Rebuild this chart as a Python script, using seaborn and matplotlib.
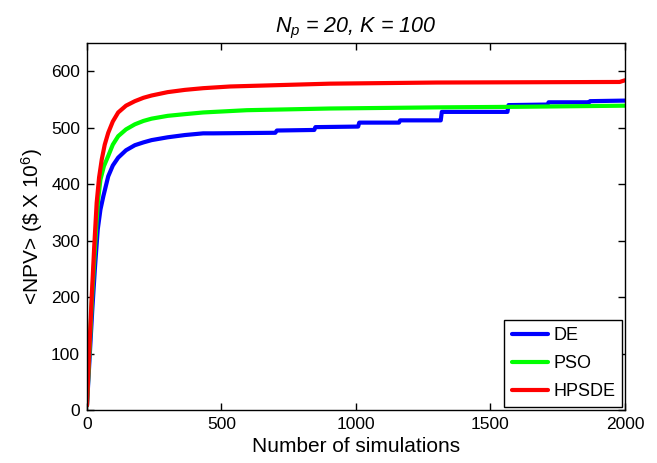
import matplotlib
matplotlib.use("Agg")
import matplotlib.pyplot as plt
import seaborn as sns
import pandas as pd

de_x = [0, 10, 20, 30, 40, 50, 61, 79, 96, 116, 145, 178, 210, 240, 300, 364, 432, 470, 700, 706, 845, 849, 1008, 1012, 1160, 1164, 1315, 1319, 1563, 1567, 1712, 1716, 1866, 1870, 2000]
de_y = [8, 95, 180, 255, 320, 355, 379, 414, 433, 447, 460, 469, 474, 478, 483, 487, 490, 490, 491, 495, 496, 501, 502, 509, 509, 513, 513, 528, 528, 540, 541, 545, 545, 547, 548]

pso_x = [0, 9, 18, 27, 35, 42, 50, 63, 79, 96, 116, 145, 178, 210, 240, 300, 364, 432, 594, 903, 1300, 1600, 2000]
pso_y = [8, 100, 190, 265, 330, 375, 408, 432, 450, 470, 485, 497, 506, 512, 516, 521, 524, 527, 531, 534, 536, 537, 539]

hpsde_x = [0, 8, 17, 27, 36, 45, 55, 66, 79, 96, 116, 145, 178, 210, 240, 300, 364, 432, 532, 903, 1300, 1980, 2000]
hpsde_y = [8, 100, 195, 290, 367, 412, 444, 470, 491, 511, 527, 539, 547, 553, 557, 563, 567, 570, 573, 578, 580, 581, 584]

labels = ["DE", "PSO", "HPSDE"]
colors = ["#0000ff", "#00ff00", "#ff0000"]

frames = []
for lab, xs, ys in zip(labels, [de_x, pso_x, hpsde_x], [de_y, pso_y, hpsde_y]):
    frames.append(pd.DataFrame({"sims": xs, "npv": ys, "method": lab}))
df = pd.concat(frames, ignore_index=True)

sns.set_style("ticks", {"xtick.direction": "in", "ytick.direction": "in"})
plt.rcParams["font.family"] = ["Liberation Sans", "DejaVu Sans"]
plt.rcParams["mathtext.fontset"] = "custom"
plt.rcParams["mathtext.rm"] = "Liberation Sans"
plt.rcParams["mathtext.it"] = "Liberation Sans:italic"
plt.rcParams["text.color"] = "black"
plt.rcParams["axes.labelcolor"] = "black"

fig = plt.figure(figsize=(6.57, 4.63), dpi=100)
ax = fig.add_axes([0.1324, 0.1145, 0.8189, 0.7926])

sns.lineplot(data=df, x="sims", y="npv", hue="method", palette=colors,
             estimator=None, sort=False, linewidth=3, ax=ax)

ax.set_xlim(0, 2000)
ax.set_ylim(0, 650)
ax.set_xticks([0, 500, 1000, 1500, 2000])
ax.set_yticks(range(0, 601, 100))
ax.tick_params(direction="in", length=5, width=1, labelsize=12.5, top=True, right=True,
               colors="black", pad=5)
for s in ax.spines.values():
    s.set_visible(True)
    s.set_linewidth(1)
    s.set_color("black")

ax.set_xlabel("Number of simulations", fontsize=15, color="black", labelpad=4)
ax.set_ylabel(r"<NPV> (\$ X 10$^6$)", fontsize=15, color="black", labelpad=4)
ax.set_title(r"$N_p$ = 20, K = 100", fontsize=15.5, style="italic", color="black", pad=8)

leg = ax.legend(loc="lower right", fontsize=13, fancybox=False, framealpha=1,
                edgecolor="black", handlelength=2.0, handletextpad=0.3,
                labelspacing=0.6, borderaxespad=0.15, borderpad=0.4)
leg.get_frame().set_linewidth(1)
for t in leg.get_texts():
    t.set_color("black")

fig.savefig("out.png", dpi=100)
